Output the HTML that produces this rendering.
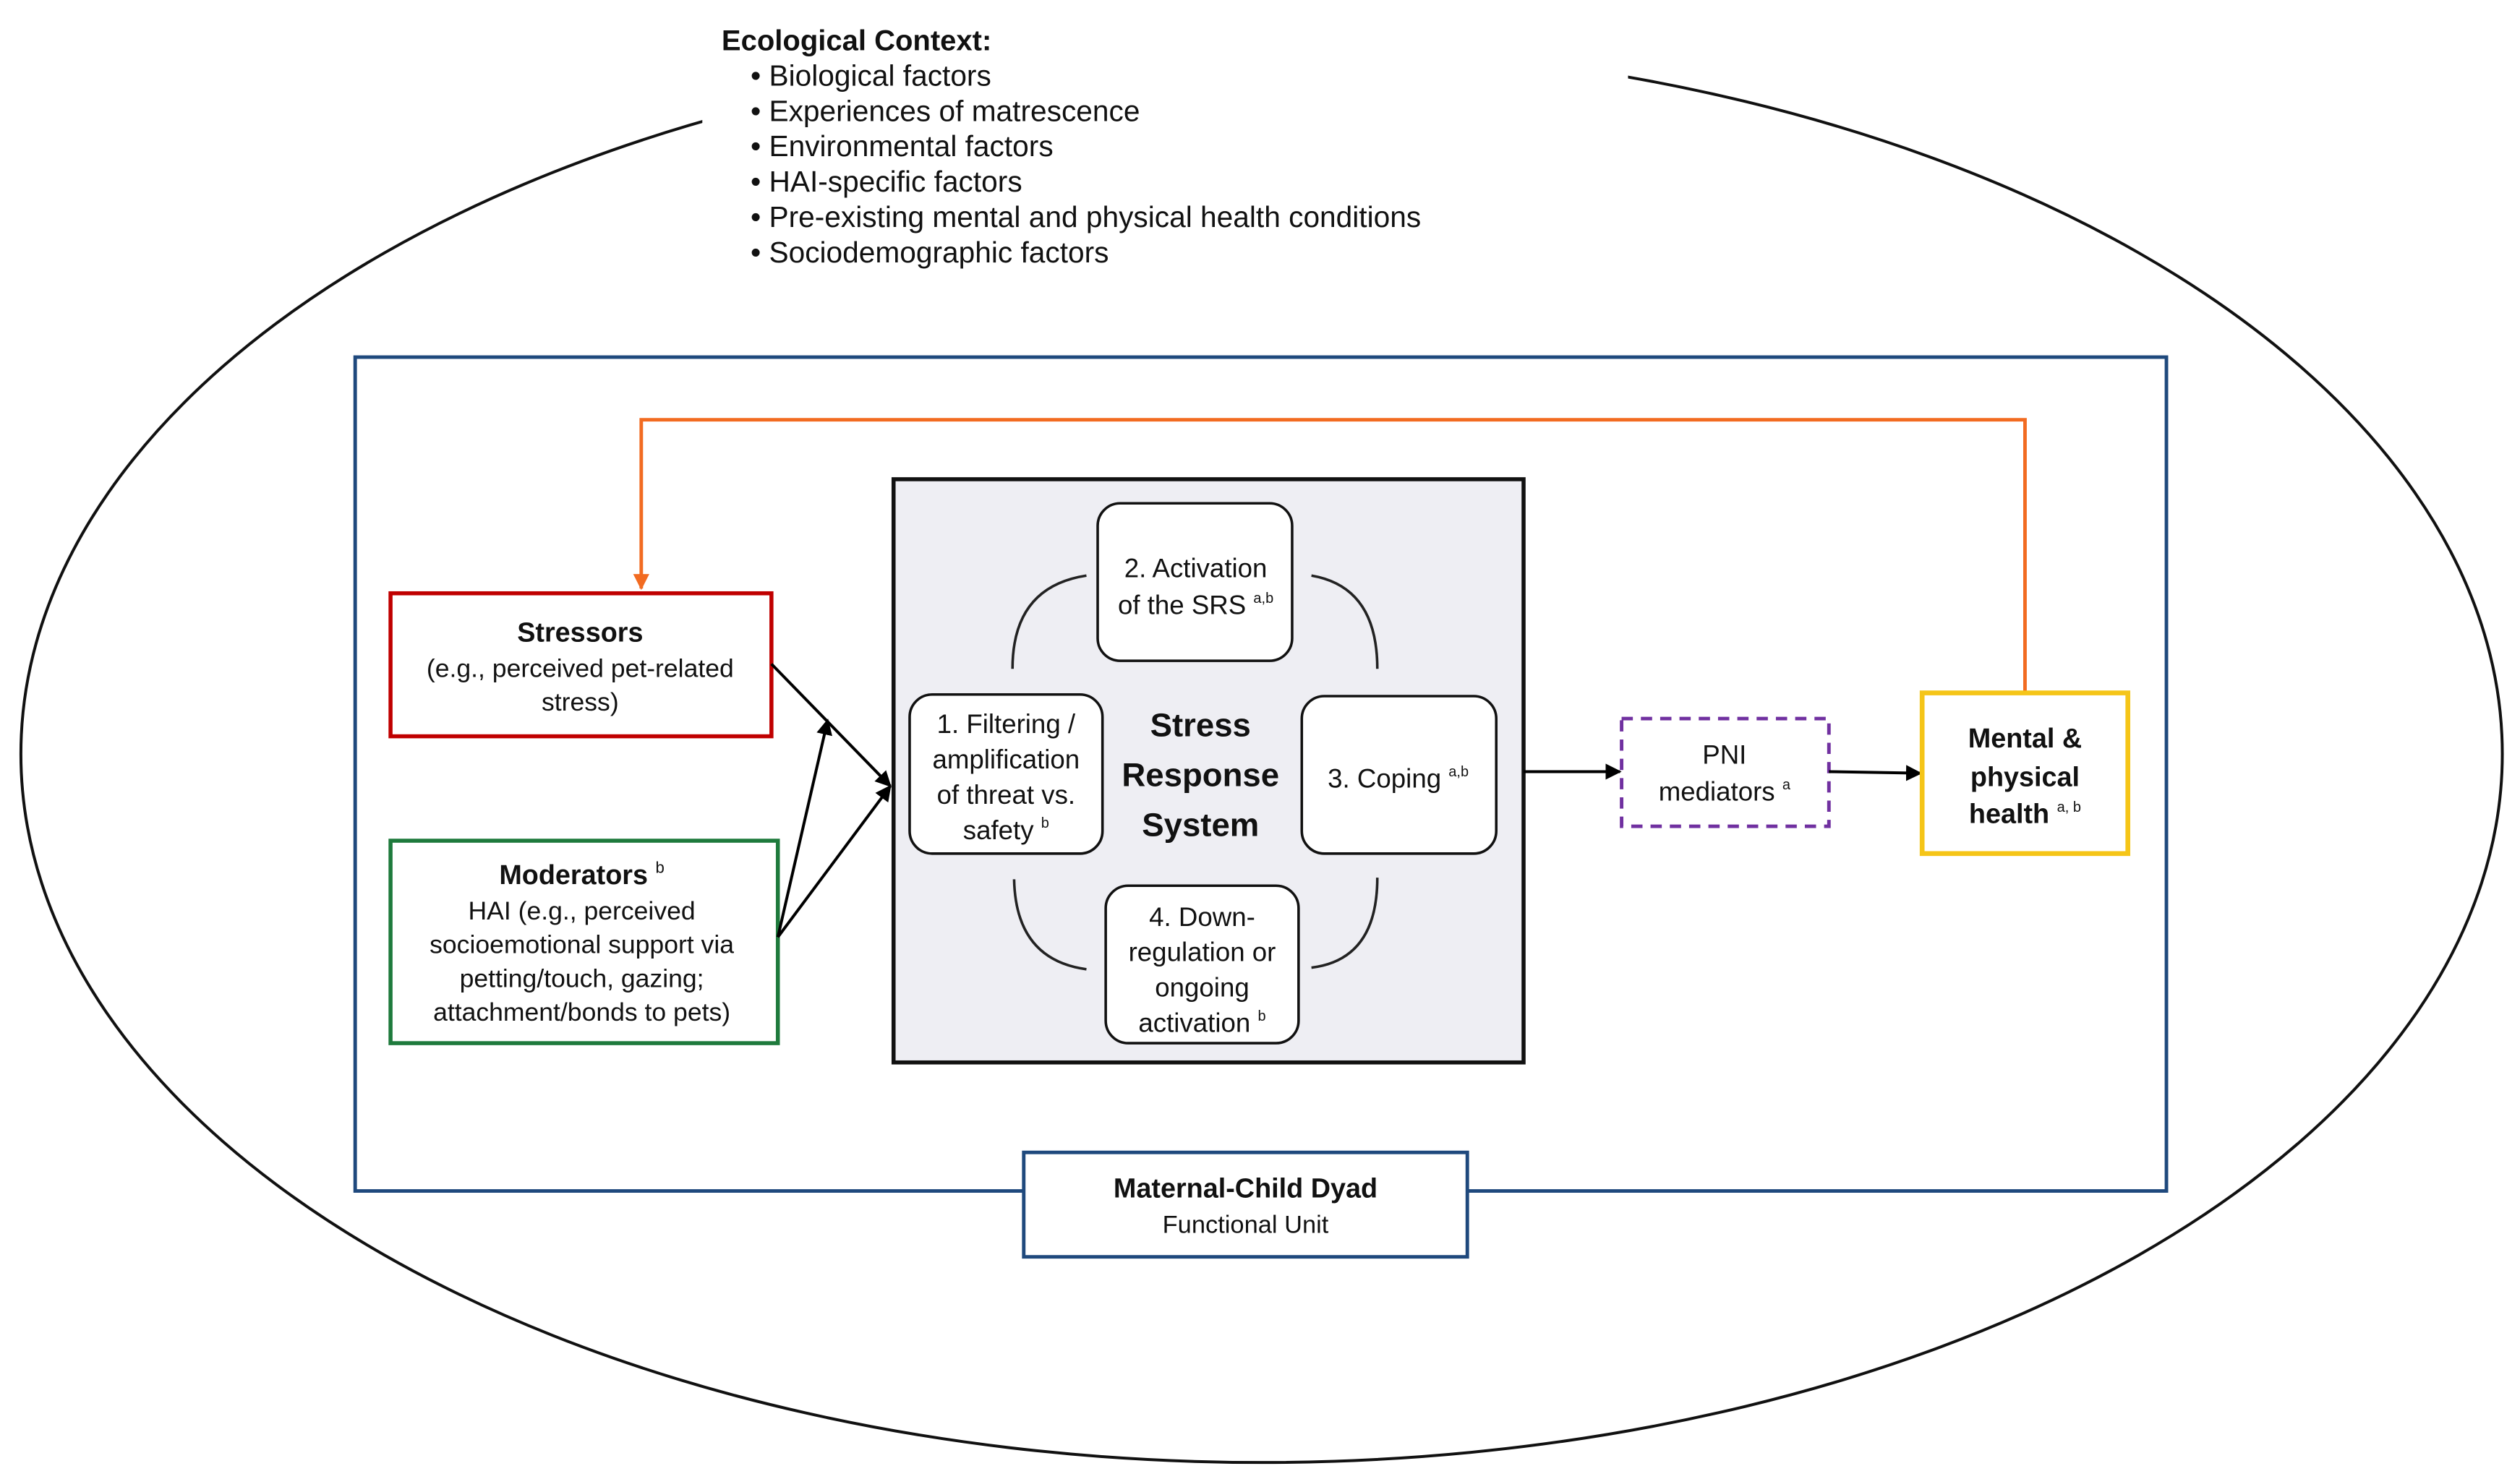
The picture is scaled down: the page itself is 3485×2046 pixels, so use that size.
<!DOCTYPE html>
<html><head><meta charset="utf-8"><style>
html,body{margin:0;padding:0;background:#fff;}
svg{display:block;}
text{font-family:"Liberation Sans",Arial,sans-serif;fill:#111;}
</style></head><body>
<svg width="3485" height="2046" viewBox="0 0 1568 920" xmlns="http://www.w3.org/2000/svg">
<defs>
<marker id="ah" markerWidth="10" markerHeight="10" refX="9" refY="5" orient="auto" markerUnits="userSpaceOnUse">
<path d="M0,0 L10,5 L0,10 z" fill="#000"/></marker>
<marker id="ao" markerWidth="10" markerHeight="10" refX="9" refY="5" orient="auto" markerUnits="userSpaceOnUse">
<path d="M0,0 L10,5 L0,10 z" fill="#f26b21"/></marker>
<clipPath id="gap"><path d="M0,0 H437 V100 H1013 V0 H1568 V920 H0 z"/></clipPath>
</defs>
<ellipse cx="785" cy="469" rx="772" ry="441" fill="none" stroke="#111" stroke-width="1.8" clip-path="url(#gap)"/>
<g font-size="18.3">
<text x="449" y="31" font-weight="bold" font-size="18">Ecological Context:</text>
<text x="467" y="53">• Biological factors</text>
<text x="467" y="75">• Experiences of matrescence</text>
<text x="467" y="97">• Environmental factors</text>
<text x="467" y="119">• HAI-specific factors</text>
<text x="467" y="141">• Pre-existing mental and physical health conditions</text>
<text x="467" y="163">• Sociodemographic factors</text>
</g>
<rect x="221" y="222" width="1127" height="519" fill="none" stroke="#1f497d" stroke-width="2.2"/>
<polyline points="1260,430 1260,261 399,261 399,366" fill="none" stroke="#f26b21" stroke-width="2.2" marker-end="url(#ao)"/>
<rect x="243" y="369" width="237" height="89" fill="#fff" stroke="#c00000" stroke-width="2.5"/>
<g font-size="16" text-anchor="middle">
<text x="361" y="399" font-weight="bold" font-size="17">Stressors</text>
<text x="361" y="421">(e.g., perceived pet-related</text>
<text x="361" y="442">stress)</text>
</g>
<rect x="243" y="523" width="241" height="126" fill="#fff" stroke="#1e7a3c" stroke-width="2.5"/>
<g font-size="16" text-anchor="middle">
<text x="362" y="550" font-weight="bold" font-size="17">Moderators <tspan font-size="10" font-weight="normal" dy="-7">b</tspan></text>
<text x="362" y="572">HAI (e.g., perceived</text>
<text x="362" y="593">socioemotional support via</text>
<text x="362" y="614">petting/touch, gazing;</text>
<text x="362" y="635">attachment/bonds to pets)</text>
</g>
<line x1="480" y1="413" x2="554" y2="489" stroke="#000" stroke-width="1.8" marker-end="url(#ah)"/>
<line x1="484" y1="583" x2="515" y2="448" stroke="#000" stroke-width="1.8" marker-end="url(#ah)"/>
<line x1="484" y1="583" x2="554" y2="489" stroke="#000" stroke-width="1.8" marker-end="url(#ah)"/>
<rect x="556" y="298" width="392" height="363" fill="#eeeef3" stroke="#111" stroke-width="2.5"/>
<g fill="none" stroke="#222" stroke-width="1.6">
<path d="M630,416 Q630,365 676,358"/>
<path d="M816,358 Q857,365 857,416"/>
<path d="M631,547 Q632,597 676,603"/>
<path d="M816,602 Q857,597 857,546"/>
</g>
<g fill="#fff" stroke="#111" stroke-width="1.6">
<rect x="683" y="313" width="121" height="98" rx="14"/>
<rect x="566" y="432" width="120" height="99" rx="14"/>
<rect x="810" y="433" width="121" height="98" rx="14"/>
<rect x="688" y="551" width="120" height="98" rx="14"/>
</g>
<g font-size="16.5" text-anchor="middle">
<text x="744" y="359">2. Activation</text>
<text x="744" y="382">of the SRS <tspan font-size="9" dy="-7">a,b</tspan></text>
<text x="626" y="456">1. Filtering /</text>
<text x="626" y="478">amplification</text>
<text x="626" y="500">of threat vs.</text>
<text x="626" y="522">safety <tspan font-size="9" dy="-7">b</tspan></text>
<text x="870" y="490">3. Coping <tspan font-size="9" dy="-7">a,b</tspan></text>
<text x="748" y="576">4. Down-</text>
<text x="748" y="598">regulation or</text>
<text x="748" y="620">ongoing</text>
<text x="748" y="642">activation <tspan font-size="9" dy="-7">b</tspan></text>
</g>
<g font-size="20.5" font-weight="bold" text-anchor="middle">
<text x="747" y="458">Stress</text>
<text x="747" y="489">Response</text>
<text x="747" y="520">System</text>
</g>
<line x1="948" y1="480" x2="1008" y2="480" stroke="#000" stroke-width="1.8" marker-end="url(#ah)"/>
<rect x="1009" y="447" width="129" height="67" fill="#fff" stroke="#7030a0" stroke-width="2.2" stroke-dasharray="7,5"/>
<g font-size="16.5" text-anchor="middle">
<text x="1073" y="475">PNI</text>
<text x="1073" y="498">mediators <tspan font-size="9" dy="-7">a</tspan></text>
</g>
<line x1="1138" y1="480" x2="1195" y2="481" stroke="#000" stroke-width="1.8" marker-end="url(#ah)"/>
<rect x="1196" y="431" width="128" height="100" fill="#fff" stroke="#f5c518" stroke-width="3"/>
<g font-size="17" font-weight="bold" text-anchor="middle">
<text x="1260" y="465">Mental &amp;</text>
<text x="1260" y="489">physical</text>
<text x="1260" y="512">health <tspan font-size="9" font-weight="normal" dy="-7">a, b</tspan></text>
</g>
<rect x="637" y="717" width="276" height="65" fill="#fff" stroke="#1f497d" stroke-width="2.2"/>
<text x="775" y="745" font-size="17" font-weight="bold" text-anchor="middle">Maternal-Child Dyad</text>
<text x="775" y="767" font-size="15.5" text-anchor="middle">Functional Unit</text>
</svg>
</body></html>
